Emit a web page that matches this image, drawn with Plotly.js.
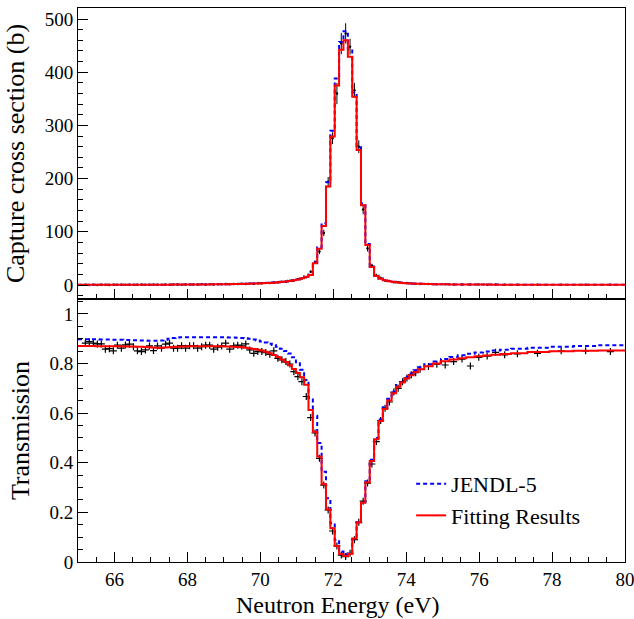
<!DOCTYPE html>
<html>
<head>
<meta charset="utf-8">
<script src="https://cdn.plot.ly/plotly-3.0.1.min.js"></script>
<style>
  html, body { margin: 0; padding: 0; background: #ffffff; }
  #chart { width: 634px; height: 619px; }
</style>
</head>
<body>
<div id="chart"></div>
<script>
// Neutron energy (bin centres, eV)
const energy = [
  65.20, 65.31, 65.42, 65.53, 65.64, 65.75, 65.86, 65.97, 66.08, 66.19,
  66.30, 66.41, 66.52, 66.63, 66.74, 66.85, 66.96, 67.07, 67.18, 67.29,
  67.40, 67.51, 67.62, 67.73, 67.84, 67.95, 68.06, 68.17, 68.28, 68.39,
  68.50, 68.61, 68.72, 68.83, 68.94, 69.05, 69.16, 69.27, 69.38, 69.49,
  69.60, 69.71, 69.82, 69.93, 70.04, 70.15, 70.26, 70.37, 70.48, 70.59,
  70.70, 70.81, 70.92, 71.03, 71.14,
  71.26, 71.38, 71.50, 71.62, 71.74, 71.86, 71.98, 72.10, 72.22, 72.34,
  72.46, 72.58, 72.70, 72.82, 72.94, 73.06, 73.18, 73.30, 73.42, 73.54,
  73.66, 73.78, 73.90, 74.02, 74.14, 74.26,
  74.38, 74.61, 74.84, 75.07, 75.30, 75.53, 75.76, 75.99, 76.22, 76.45,
  76.70, 77.05, 77.60, 78.25, 78.92, 79.60
];

// Capture cross section (b)
const capData = [
  0.5, 0.1, 0.4, 0.2, 0.6, 0.3, 0.2, 0.5, 0.4, 0.6,
  0.3, 0.7, 0.4, 0.5, 0.8, 0.4, 0.6, 0.9, 0.5, 0.7,
  0.9, 0.6, 0.8, 1.0, 0.7, 1.1, 0.8, 1.2, 0.9, 1.3,
  1.0, 1.4, 1.1, 1.5, 1.3, 1.7, 1.5, 2.0, 1.8, 2.3,
  2.1, 2.7, 2.5, 3.2, 3.1, 3.9, 3.8, 4.8, 4.9, 6.1,
  6.3, 8.0, 8.6, 11.0, 12.2,
  14.5, 25, 43, 63, 98, 194, 276, 360, 454, 473,
  448, 366, 260, 142, 69, 36, 18, 13, 8.5, 7.6,
  5.4, 5.0, 3.7, 3.6, 2.7, 2.6,
  2.0, 1.9, 1.4, 1.4, 1.0, 1.1, 0.8, 0.9, 0.7, 0.8,
  0.6, 0.7, 0.5, 0.6, 0.4, 0.5
];
const capErr = [
  0.5, 0.5, 0.5, 0.5, 0.5, 0.5, 0.5, 0.5, 0.5, 0.5,
  0.5, 0.5, 0.5, 0.5, 0.5, 0.5, 0.5, 0.5, 0.5, 0.5,
  0.5, 0.5, 0.5, 0.5, 0.5, 0.5, 0.5, 0.5, 0.5, 0.5,
  0.5, 0.5, 0.5, 0.5, 0.5, 0.5, 0.5, 0.5, 0.5, 0.5,
  0.6, 0.6, 0.6, 0.7, 0.7, 0.7, 0.8, 0.8, 0.9, 0.9,
  1.0, 1.0, 1.1, 1.2, 1.3,
  1.5, 2.5, 3.5, 5, 6, 9, 11, 20, 20, 19,
  15, 14, 12, 9, 6, 4, 3, 2.5, 2, 1.8,
  1.5, 1.4, 1.2, 1.1, 1.0, 1.0,
  0.8, 0.8, 0.8, 0.8, 0.7, 0.7, 0.7, 0.7, 0.6, 0.6,
  0.6, 0.6, 0.5, 0.5, 0.5, 0.5
];
const capJendl = [
  0.3, 0.3, 0.3, 0.3, 0.35, 0.35, 0.35, 0.4, 0.4, 0.4,
  0.45, 0.45, 0.5, 0.5, 0.5, 0.55, 0.55, 0.6, 0.6, 0.65,
  0.7, 0.7, 0.75, 0.8, 0.8, 0.85, 0.9, 0.95, 1.0, 1.1,
  1.15, 1.25, 1.35, 1.4, 1.5, 1.6, 1.7, 1.85, 2.0, 2.2,
  2.4, 2.6, 2.8, 3.1, 3.4, 3.7, 4.1, 4.6, 5.3, 6.0,
  6.8, 7.9, 9.2, 10.9, 13.1,
  16.2, 20, 43, 71, 116, 193, 290, 388, 457, 477,
  443, 362, 259, 153, 77, 35, 17.5, 12.4, 9.3, 7.4,
  6.0, 5.0, 4.1, 3.5, 3.0, 2.6,
  2.3, 1.9, 1.6, 1.35, 1.15, 1.05, 0.95, 0.85, 0.8, 0.75,
  0.7, 0.62, 0.57, 0.52, 0.47, 0.42
];
const capFit = [
  0.3, 0.3, 0.3, 0.3, 0.35, 0.35, 0.35, 0.4, 0.4, 0.4,
  0.45, 0.45, 0.5, 0.5, 0.5, 0.55, 0.55, 0.6, 0.6, 0.65,
  0.7, 0.7, 0.75, 0.8, 0.8, 0.85, 0.9, 0.95, 1.0, 1.05,
  1.1, 1.2, 1.3, 1.35, 1.45, 1.55, 1.65, 1.8, 1.95, 2.1,
  2.3, 2.5, 2.7, 3.0, 3.3, 3.6, 4.0, 4.5, 5.1, 5.8,
  6.6, 7.6, 8.9, 10.5, 12.6,
  15.5, 19, 41, 68, 111, 185, 279, 375, 442, 460,
  429, 354, 254, 150, 75, 34, 17, 12, 9, 7.2,
  5.8, 4.8, 4.0, 3.4, 2.9, 2.5,
  2.2, 1.8, 1.5, 1.3, 1.1, 1.0, 0.9, 0.8, 0.75, 0.7,
  0.65, 0.6, 0.55, 0.5, 0.45, 0.4
];

// Transmission
const trData = [
  0.882, 0.888, 0.882, 0.879, 0.879, 0.858, 0.860, 0.851, 0.874, 0.862,
  0.875, 0.878, 0.868, 0.851, 0.848, 0.855, 0.871, 0.852, 0.871, 0.862,
  0.878, 0.882, 0.862, 0.862, 0.872, 0.862, 0.872, 0.872, 0.862, 0.868,
  0.874, 0.874, 0.858, 0.866, 0.871, 0.882, 0.858, 0.871, 0.874, 0.871,
  0.879, 0.855, 0.841, 0.848, 0.848, 0.844, 0.837, 0.851, 0.821, 0.815,
  0.808, 0.798, 0.767, 0.747, 0.727,
  0.667, 0.582, 0.520, 0.418, 0.310, 0.210, 0.125, 0.065, 0.028, 0.022,
  0.035, 0.090, 0.160, 0.245, 0.318, 0.395, 0.485, 0.570, 0.620, 0.645,
  0.685, 0.700, 0.727, 0.742, 0.755, 0.763,
  0.777, 0.788, 0.797, 0.794, 0.808, 0.818, 0.790, 0.825, 0.830, 0.845,
  0.835, 0.839, 0.841, 0.851, 0.851, 0.848
];
const trJendl = [
  0.898, 0.898, 0.898, 0.898, 0.897, 0.897, 0.897, 0.896, 0.896, 0.896,
  0.895, 0.895, 0.894, 0.894, 0.893, 0.893, 0.892, 0.892, 0.892, 0.893,
  0.896, 0.900, 0.903, 0.905, 0.906, 0.906, 0.906, 0.906, 0.906, 0.906,
  0.906, 0.906, 0.906, 0.906, 0.906, 0.906, 0.905, 0.905, 0.904, 0.903,
  0.902, 0.900, 0.897, 0.893, 0.889, 0.885, 0.880, 0.875, 0.868, 0.860,
  0.850, 0.840, 0.825, 0.805, 0.775,
  0.734, 0.660, 0.590, 0.480, 0.364, 0.257, 0.156, 0.089, 0.042, 0.030,
  0.034, 0.092, 0.160, 0.242, 0.325, 0.412, 0.500, 0.574, 0.624, 0.658,
  0.687, 0.713, 0.731, 0.747, 0.760, 0.773,
  0.785, 0.797, 0.808, 0.818, 0.826, 0.833, 0.839, 0.844, 0.848, 0.852,
  0.856, 0.860, 0.864, 0.868, 0.871, 0.874
];
const trFit = [
  0.871, 0.871, 0.871, 0.870, 0.870, 0.870, 0.870, 0.870, 0.870, 0.870,
  0.869, 0.869, 0.869, 0.868, 0.868, 0.867, 0.866, 0.865, 0.864, 0.864,
  0.865, 0.866, 0.867, 0.868, 0.869, 0.869, 0.870, 0.870, 0.870, 0.870,
  0.870, 0.870, 0.870, 0.870, 0.870, 0.869, 0.869, 0.868, 0.867, 0.866,
  0.864, 0.862, 0.859, 0.856, 0.852, 0.847, 0.841, 0.834, 0.826, 0.816,
  0.806, 0.793, 0.778, 0.762, 0.745,
  0.714, 0.613, 0.525, 0.425, 0.313, 0.212, 0.136, 0.065, 0.032, 0.024,
  0.032, 0.095, 0.159, 0.239, 0.321, 0.407, 0.495, 0.568, 0.617, 0.651,
  0.680, 0.706, 0.724, 0.740, 0.753, 0.766,
  0.777, 0.789, 0.800, 0.809, 0.816, 0.821, 0.825, 0.829, 0.832, 0.835,
  0.838, 0.841, 0.846, 0.849, 0.851, 0.853
];

const xLo = 65, xHi = 80;
const xTickVals = [66, 68, 70, 72, 74, 76, 78, 80];
const capTickVals = [0, 100, 200, 300, 400, 500];
const trTickVals = [0, 0.2, 0.4, 0.6, 0.8, 1];

// extend step lines to the frame edges using the end-bin values
function ext(arrX, arrY) {
  return {
    x: [xLo].concat(arrX, [xHi]),
    y: [arrY[0]].concat(arrY, [arrY[arrY.length - 1]])
  };
}

const RED = '#ff0000', BLUE = '#0000ff';
const FONT = 'Liberation Serif';

const capJ = ext(energy, capJendl), capF = ext(energy, capFit);
const trJ = ext(energy, trJendl), trF = ext(energy, trFit);

const traces = [
  { x: energy, y: capData, xaxis: 'x2', yaxis: 'y2', type: 'scatter', mode: 'markers',
    marker: { symbol: 'circle', size: 2.5, color: '#000' },
    error_y: { type: 'data', array: capErr, visible: true, color: '#000', thickness: 1, width: 0 },
    showlegend: false, hoverinfo: 'skip' },
  { x: capJ.x, y: capJ.y, xaxis: 'x2', yaxis: 'y2', type: 'scatter', mode: 'lines',
    line: { shape: 'hvh', color: BLUE, width: 2, dash: '4px,3px' }, showlegend: false },
  { x: capF.x, y: capF.y, xaxis: 'x2', yaxis: 'y2', type: 'scatter', mode: 'lines',
    line: { shape: 'hvh', color: RED, width: 2 }, showlegend: false },

  { x: energy, y: trData, xaxis: 'x', yaxis: 'y', type: 'scatter', mode: 'markers',
    marker: { symbol: 'cross-thin', size: 5, color: '#000', line: { color: '#000', width: 1.2 } },
    showlegend: false, hoverinfo: 'skip' },
  { x: trJ.x, y: trJ.y, xaxis: 'x', yaxis: 'y', type: 'scatter', mode: 'lines', name: 'JENDL-5',
    line: { shape: 'hvh', color: BLUE, width: 2, dash: '4px,3px' } },
  { x: trF.x, y: trF.y, xaxis: 'x', yaxis: 'y', type: 'scatter', mode: 'lines', name: 'Fitting Results',
    line: { shape: 'hvh', color: RED, width: 2 } }
];

const axisCommon = {
  showline: true, linecolor: '#000', linewidth: 1, mirror: true,
  ticks: 'inside', tickcolor: '#000', ticklen: 10, tickwidth: 1,
  showgrid: false, zeroline: false, ticklabeloverflow: 'allow',
  tickfont: { family: FONT, size: 19, color: '#000' }
};

const split = 0.4747;
const layout = {
  width: 634, height: 619,
  margin: { l: 78, r: 9, t: 8, b: 57 },
  paper_bgcolor: '#fff', plot_bgcolor: '#fff',
  font: { family: FONT, color: '#000' },
  showlegend: true,
  legend: {
    x: 0.609, y: 0.112, xanchor: 'left', yanchor: 'middle',
    bgcolor: 'rgba(0,0,0,0)', borderwidth: 0,
    font: { family: FONT, size: 22, color: '#000' }
  },
  xaxis: Object.assign({}, axisCommon, {
    anchor: 'y', range: [xLo, xHi], tickmode: 'array', tickvals: xTickVals,
    minor: { dtick: 0.5, ticks: 'inside', ticklen: 5, tickcolor: '#000' }
  }),
  xaxis2: Object.assign({}, axisCommon, {
    anchor: 'y2', range: [xLo, xHi], tickmode: 'array', tickvals: xTickVals,
    showticklabels: false,
    minor: { dtick: 0.5, ticks: 'inside', ticklen: 5, tickcolor: '#000' }
  }),
  yaxis: Object.assign({}, axisCommon, {
    anchor: 'x', domain: [0, split], range: [0, 1.06], tickmode: 'array', tickvals: trTickVals,
    minor: { dtick: 0.05, ticks: 'inside', ticklen: 5, tickcolor: '#000' },
    title: { text: 'Transmission', font: { family: FONT, size: 26, color: '#000' }, standoff: 12 }
  }),
  yaxis2: Object.assign({}, axisCommon, {
    anchor: 'x2', domain: [split, 1], range: [-26.3, 520.7], tickmode: 'array', tickvals: capTickVals,
    minor: { dtick: 20, ticks: 'inside', ticklen: 5, tickcolor: '#000' },
    title: { text: 'Capture cross section (b)', font: { family: FONT, size: 26, color: '#000' }, standoff: 12 }
  }),
  annotations: [
    { text: 'Neutron Energy (eV)', xref: 'paper', yref: 'paper', x: 0.475, y: -0.0776,
      xanchor: 'center', yanchor: 'middle', showarrow: false,
      font: { family: FONT, size: 24, color: '#000' } }
  ]
};

Plotly.newPlot('chart', traces, layout, { displayModeBar: false, staticPlot: true });
</script>
</body>
</html>
